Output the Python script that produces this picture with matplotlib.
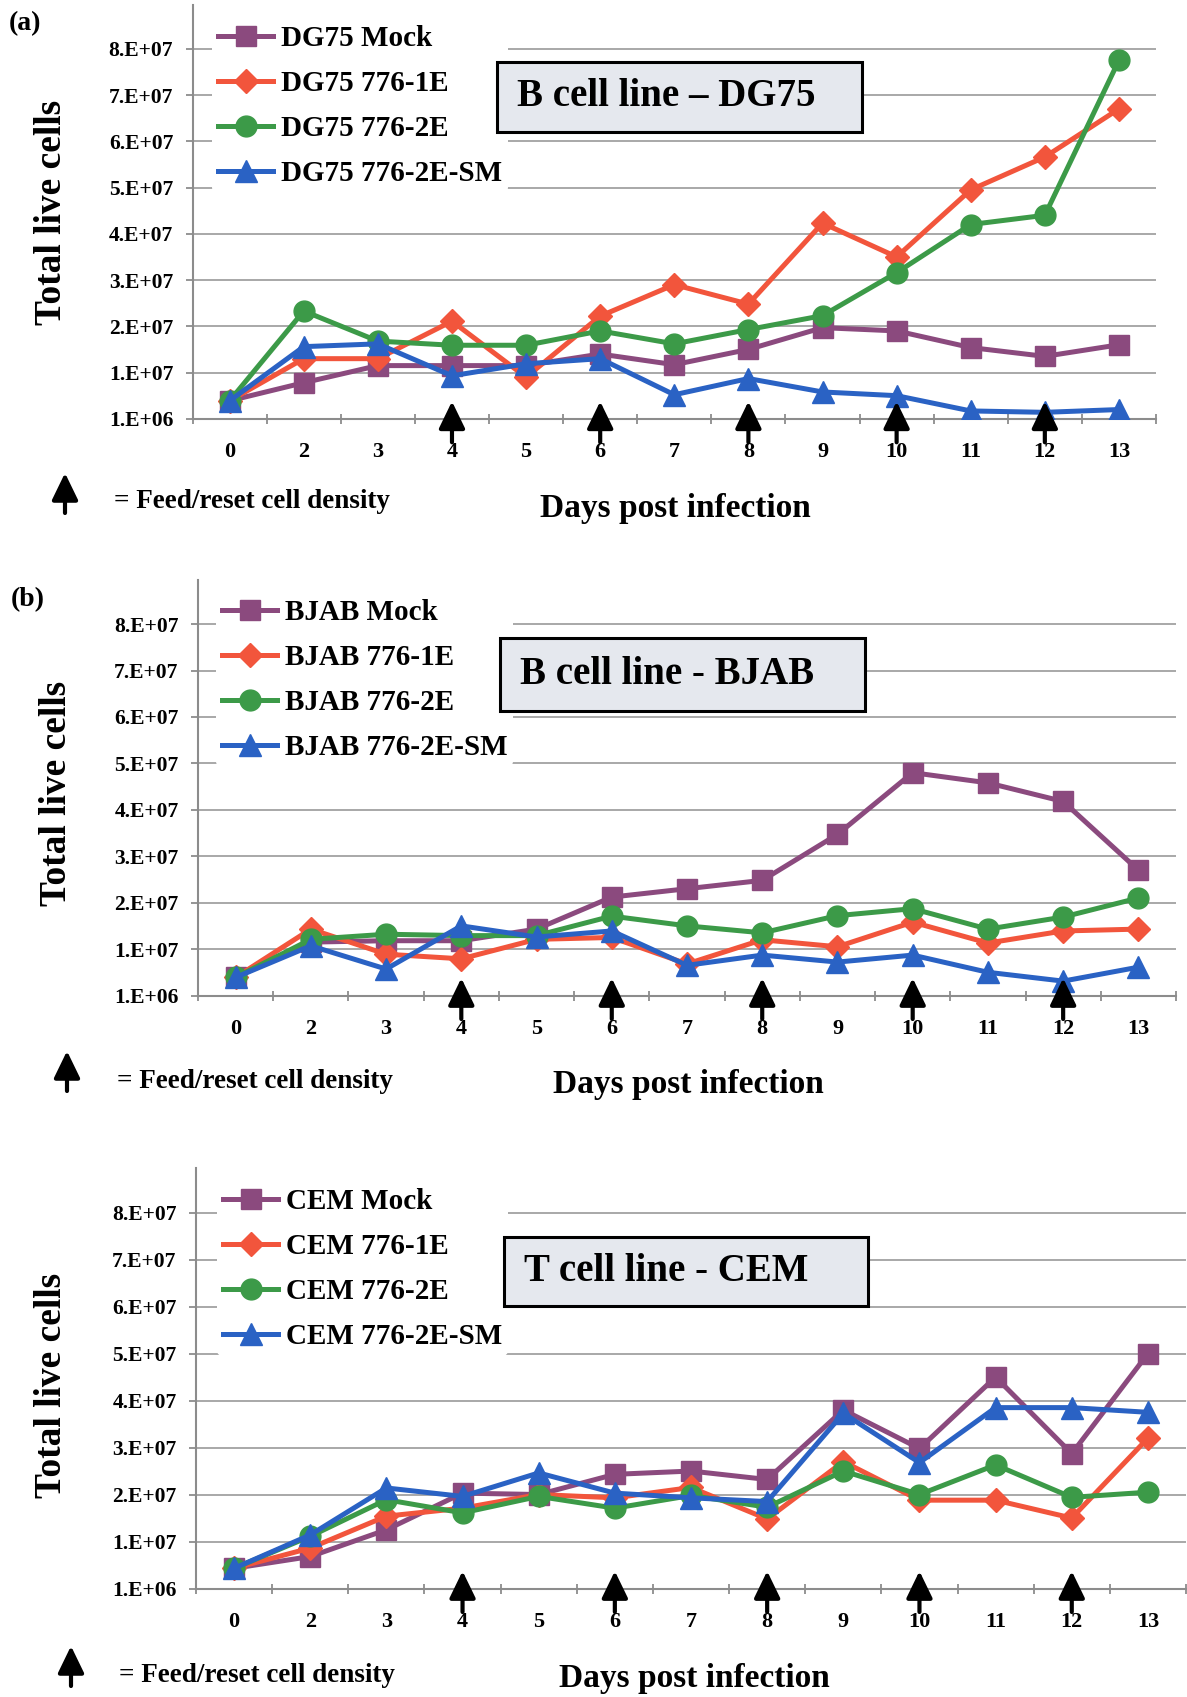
import numpy as np
import matplotlib
matplotlib.use('Agg')
import matplotlib.pyplot as plt
from matplotlib.patches import Rectangle

plt.rcParams['font.family'] = ['Liberation Serif', 'DejaVu Serif']
plt.rcParams['font.weight'] = 'bold'

# x categories (days post infection) and feeding days
days = ['0', '2', '3', '4', '5', '6', '7', '8', '9', '10', '11', '12', '13']
feed_days = ['4', '6', '8', '10', '12']

# y axis: Excel-style ticks starting at 1e6 with a 1e7 step
ytick_vals = [1e6, 1.1e7, 2.1e7, 3.1e7, 4.1e7, 5.1e7, 6.1e7, 7.1e7, 8.1e7]
ytick_labels = ['1.E+06', '1.E+07', '2.E+07', '3.E+07', '4.E+07',
                '5.E+07', '6.E+07', '7.E+07', '8.E+07']

series_names = ['Mock', '776-1E', '776-2E', '776-2E-SM']

# (a) DG75
dg75_mock = [4.9e6, 8.8e6, 1.25e7, 1.25e7, 1.25e7, 1.5e7, 1.27e7, 1.6e7, 2.07e7, 2.0e7, 1.64e7, 1.45e7, 1.7e7]
dg75_1e = [4.9e6, 1.4e7, 1.4e7, 2.21e7, 1.0e7, 2.32e7, 3.0e7, 2.58e7, 4.33e7, 3.6e7, 5.05e7, 5.76e7, 6.8e7]
dg75_2e = [4.9e6, 2.43e7, 1.78e7, 1.69e7, 1.69e7, 2.0e7, 1.72e7, 2.03e7, 2.33e7, 3.26e7, 4.3e7, 4.5e7, 7.85e7]
dg75_2e_sm = [4.9e6, 1.66e7, 1.72e7, 1.03e7, 1.29e7, 1.4e7, 0.62e7, 0.97e7, 0.68e7, 0.6e7, 0.27e7, 0.24e7, 0.3e7]

# (b) BJAB
bjab_mock = [4.9e6, 1.25e7, 1.28e7, 1.28e7, 1.53e7, 2.22e7, 2.4e7, 2.58e7, 3.57e7, 4.9e7, 4.68e7, 4.28e7, 2.8e7]
bjab_1e = [4.9e6, 1.53e7, 0.99e7, 0.89e7, 1.31e7, 1.35e7, 0.78e7, 1.3e7, 1.15e7, 1.68e7, 1.23e7, 1.49e7, 1.53e7]
bjab_2e = [4.9e6, 1.31e7, 1.42e7, 1.39e7, 1.39e7, 1.81e7, 1.6e7, 1.45e7, 1.82e7, 1.97e7, 1.53e7, 1.79e7, 2.2e7]
bjab_2e_sm = [4.9e6, 1.17e7, 0.67e7, 1.6e7, 1.36e7, 1.49e7, 0.75e7, 0.97e7, 0.82e7, 0.97e7, 0.6e7, 0.41e7, 0.71e7]

# (c) CEM
cem_mock = [5.3e6, 0.78e7, 1.35e7, 2.13e7, 2.1e7, 2.53e7, 2.6e7, 2.42e7, 3.9e7, 3.08e7, 4.6e7, 2.97e7, 5.1e7]
cem_1e = [5.3e6, 0.96e7, 1.64e7, 1.81e7, 2.1e7, 2.03e7, 2.25e7, 1.58e7, 2.8e7, 1.98e7, 1.98e7, 1.6e7, 3.3e7]
cem_2e = [5.3e6, 1.21e7, 1.99e7, 1.71e7, 2.06e7, 1.81e7, 2.08e7, 1.83e7, 2.6e7, 2.1e7, 2.73e7, 2.04e7, 2.15e7]
cem_2e_sm = [5.3e6, 1.24e7, 2.24e7, 2.06e7, 2.56e7, 2.13e7, 2.03e7, 1.95e7, 3.83e7, 2.78e7, 3.95e7, 3.95e7, 3.85e7]

colors = ['#8b4a7e', '#f2553c', '#3c9a48', '#2a62c4']
markers = ['s', 'D', 'o', '^']
msizes = [15, 12, 15, 16]

W, H = 1187, 1697
fig = plt.figure(figsize=(W / 100, H / 100), dpi=100)


def fx(px):
    return px / W


def fy(py):
    return 1 - py / H


# layout of each panel in pixels
panels = [
    dict(cell='DG75', title='B cell line \u2013 DG75', tag='(a)',
         data=[dg75_mock, dg75_1e, dg75_2e, dg75_2e_sm],
         ax=(192.6, 4.8, 1156, 418.8), leg=(212, 19), box=(497, 62, 862, 132),
         ylab=(52, 212), xlab=(675, 508), tagpos=(9, 24),
         key=(65, 473, 513), keytext=(113.6, 501)),
    dict(cell='BJAB', title='B cell line - BJAB', tag='(b)',
         data=[bjab_mock, bjab_1e, bjab_2e, bjab_2e_sm],
         ax=(198, 580, 1176, 995.5), leg=(216, 593), box=(500, 638, 865, 711),
         ylab=(56, 793), xlab=(688, 1085), tagpos=(11, 600),
         key=(67, 1051, 1091), keytext=(117, 1082)),
    dict(cell='CEM', title='T cell line - CEM', tag=None,
         data=[cem_mock, cem_1e, cem_2e, cem_2e_sm],
         ax=(196, 1168, 1186, 1588.5), leg=(217, 1182), box=(504, 1237, 868, 1306),
         ylab=(52, 1385), xlab=(694, 1678), tagpos=None,
         key=(71, 1646, 1686), keytext=(119, 1676)),
]

arrow_style = '-|>,head_length=1.65,head_width=0.8'

for p in panels:
    l, t, r, b = p['ax']
    ax = fig.add_axes([fx(l), fy(b), fx(r - l), (b - t) / H])
    x = np.arange(len(days))
    for vals, name, c, m, ms in zip(p['data'], series_names, colors, markers, msizes):
        ax.plot(x, vals, color=c, lw=3.6, marker=m, ms=ms, mec=c, mfc=c,
                label=p['cell'] + ' ' + name, zorder=3)

    ax.set_xlim(-0.5, len(days) - 0.5)
    ax.set_ylim(1e6, 9.05e7)
    ax.set_yticks(ytick_vals)
    ax.set_yticklabels(ytick_labels, fontsize=15.5)
    ax.set_xticks(x)
    ax.set_xticklabels(days, fontsize=16)
    ax.set_xticks(np.arange(-0.5, len(days), 1), minor=True)
    ax.tick_params(axis='x', which='major', length=0, pad=17)
    ax.tick_params(axis='x', which='minor', length=7, direction='inout', color='#8c8c8c', width=1.3)
    ax.tick_params(axis='y', length=5, color='#8c8c8c', width=1.3, pad=9)
    ax.yaxis.grid(True, color='#a8a8a8', lw=1.4)
    ax.set_axisbelow(True)
    for s in ['top', 'right']:
        ax.spines[s].set_visible(False)
    for s in ['left', 'bottom']:
        ax.spines[s].set_color('#8c8c8c')
        ax.spines[s].set_linewidth(1.5)

    leg = ax.legend(loc='upper left', bbox_to_anchor=(fx(p['leg'][0]), fy(p['leg'][1])),
                    bbox_transform=fig.transFigure, fontsize=21, frameon=True,
                    facecolor='white', edgecolor='none', framealpha=1,
                    handlelength=1.9, handletextpad=0.25, labelspacing=0.62,
                    borderpad=0.2, borderaxespad=0)
    leg.set_zorder(4)

    # feeding arrows under the x axis
    hpx = b - t
    for d in feed_days:
        i = days.index(d)
        ax.annotate('', xy=(i, 17.4 / hpx), xycoords=('data', 'axes fraction'),
                    xytext=(i, -23.5 / hpx), textcoords=('data', 'axes fraction'),
                    arrowprops=dict(arrowstyle=arrow_style, color='black', lw=3,
                                    shrinkA=0, shrinkB=0, mutation_scale=10),
                    annotation_clip=False, zorder=6)

    # title box
    bl, bt, br, bb = p['box']
    fig.add_artist(Rectangle((fx(bl), fy(bb)), fx(br - bl), (bb - bt) / H,
                             transform=fig.transFigure, facecolor='#e5e8ee',
                             edgecolor='black', lw=2.2, zorder=5))
    fig.text(fx(bl + 20), fy((bt + bb) / 2), p['title'], fontsize=28,
             va='center', ha='left', zorder=6)

    fig.text(fx(p['ylab'][0]), fy(p['ylab'][1]), 'Total live cells', fontsize=27,
             rotation=90, ha='center', va='center')
    fig.text(fx(p['xlab'][0]), fy(p['xlab'][1]), 'Days post infection', fontsize=24,
             ha='center', va='center')
    if p['tag']:
        fig.text(fx(p['tagpos'][0]), fy(p['tagpos'][1]), p['tag'], fontsize=20,
                 ha='left', va='center')

    kx, ktop, kbot = p['key']
    ax.annotate('', xy=(kx, H - ktop), xycoords='figure pixels',
                xytext=(kx, H - kbot), textcoords='figure pixels',
                arrowprops=dict(arrowstyle=arrow_style, color='black', lw=3,
                                shrinkA=0, shrinkB=0, mutation_scale=10),
                annotation_clip=False)
    fig.text(fx(p['keytext'][0]), fy(p['keytext'][1]), '= Feed/reset cell density',
             fontsize=19.5, ha='left', va='center')

fig.savefig('out.png', dpi=100)
